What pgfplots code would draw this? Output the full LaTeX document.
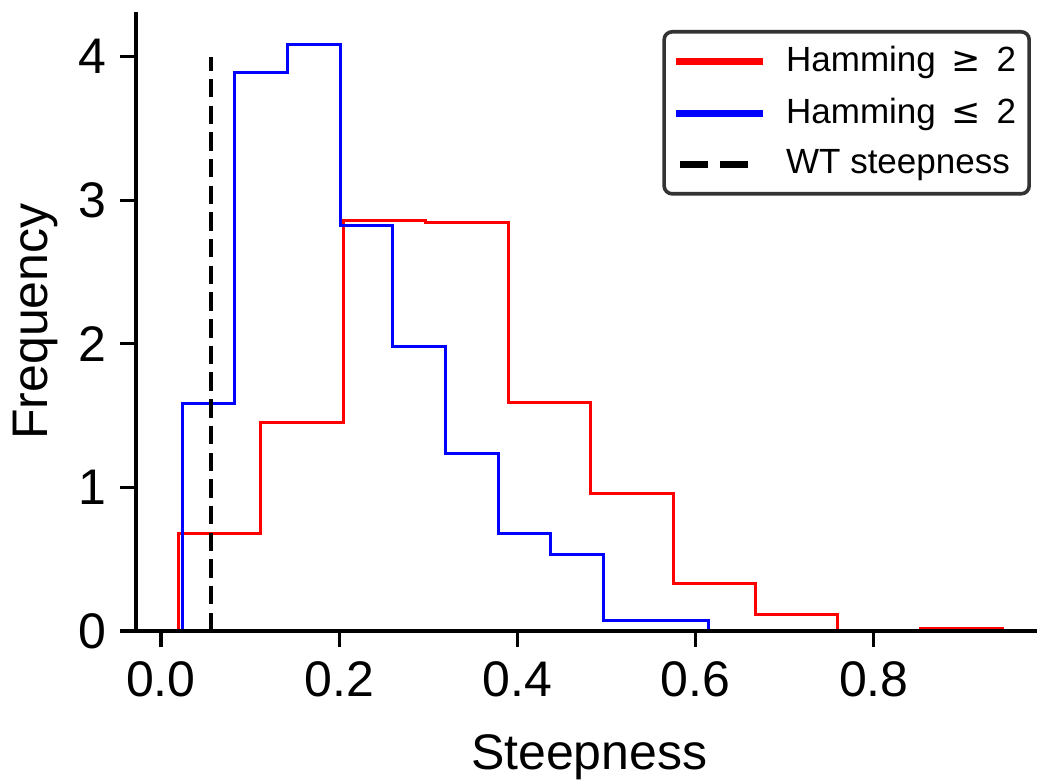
\documentclass[border=0pt]{standalone}
\usepackage{fontspec}
\setmainfont{Liberation Sans}
\newfontfamily\dejavu{DejaVu Sans}
\usepackage{pgfplots}
\pgfplotsset{compat=1.18}
\begin{document}
\begin{tikzpicture}
\begin{axis}[
  scale only axis, width=225.25pt, height=154.75pt,
  xmin=-0.028, xmax=0.983, ymin=0, ymax=4.31,
  axis x line*=bottom, axis y line*=left,
  axis line style={-, line width=0.8pt, black},
  axis on top, clip=false,
  xtick={0,0.2,0.4,0.6,0.8}, ytick={0,1,2,3,4},
  tick align=outside, major tick length=4pt,
  every tick/.style={black, line width=0.8pt},
  /pgf/number format/assume math mode=true,
  xticklabel style={/pgf/number format/.cd, fixed, fixed zerofill, precision=1},
  tick label style={font=\fontsize{12.5}{15}\selectfont},
  label style={font=\fontsize{12.5}{15}\selectfont},
  xlabel={Steepness}, ylabel={Frequency},
  xlabel style={at={(axis description cs:0.503,-0.223)}, anchor=base, inner sep=0pt},
  ylabel style={at={(axis description cs:-0.1376,0.5)}, anchor=north, inner sep=0pt},
  legend cell align=left,
  legend image code/.code={\path (0pt,0pt) (25.5pt,0pt); \draw[#1] (1.75pt,0pt) -- (21.75pt,0pt);},
  legend style={at={(1,1)}, anchor=north east, xshift=-1.5pt, yshift=-4.5pt,
    draw=black!80, line width=0.9pt, rounded corners=2pt,
    font=\fontsize{8.75}{10.5}\selectfont, inner xsep=1.25pt, inner ysep=1.5pt,
    row sep=1.15pt},
]
\addlegendimage{red, line width=1.75pt, line cap=rect}
\addlegendentry{Hamming\hspace{0.45em}{\dejavu ≥}\hspace{0.45em}2}
\addlegendimage{blue, line width=1.75pt, line cap=rect}
\addlegendentry{Hamming\hspace{0.45em}{\dejavu ≤}\hspace{0.45em}2}
\addlegendimage{black, line width=1.75pt, dash pattern=on 7pt off 3pt}
\addlegendentry{WT steepness}

\addplot[forget plot, red, line width=0.75pt, const plot mark left] coordinates {
 (0.0196,0) (0.0196,0.681) (0.1121,1.454) (0.2046,2.856) (0.2971,2.842)
 (0.3896,1.588) (0.4821,0.959) (0.5746,0.330) (0.6671,0.112) (0.7596,0)
 (0.8521,0.017) (0.9446,0)};
\addplot[forget plot, blue, line width=0.75pt, const plot mark left] coordinates {
 (0.0239,0) (0.0239,1.586) (0.0830,3.892) (0.1421,4.086) (0.2012,2.826)
 (0.2603,1.981) (0.3194,1.239) (0.3785,0.681) (0.4376,0.531) (0.4967,0.075)
 (0.5558,0.075) (0.6149,0)};
\addplot[forget plot, black, line width=1pt, dash pattern=on 4.6pt off 2.07pt] coordinates {
 (0.0557,0) (0.0557,4)};
\coordinate (SW) at (rel axis cs:0,0);
\end{axis}
\path ([shift={(-34pt,-37pt)}]SW) rectangle ++(259.75pt,194.75pt);
\end{tikzpicture}
\end{document}
